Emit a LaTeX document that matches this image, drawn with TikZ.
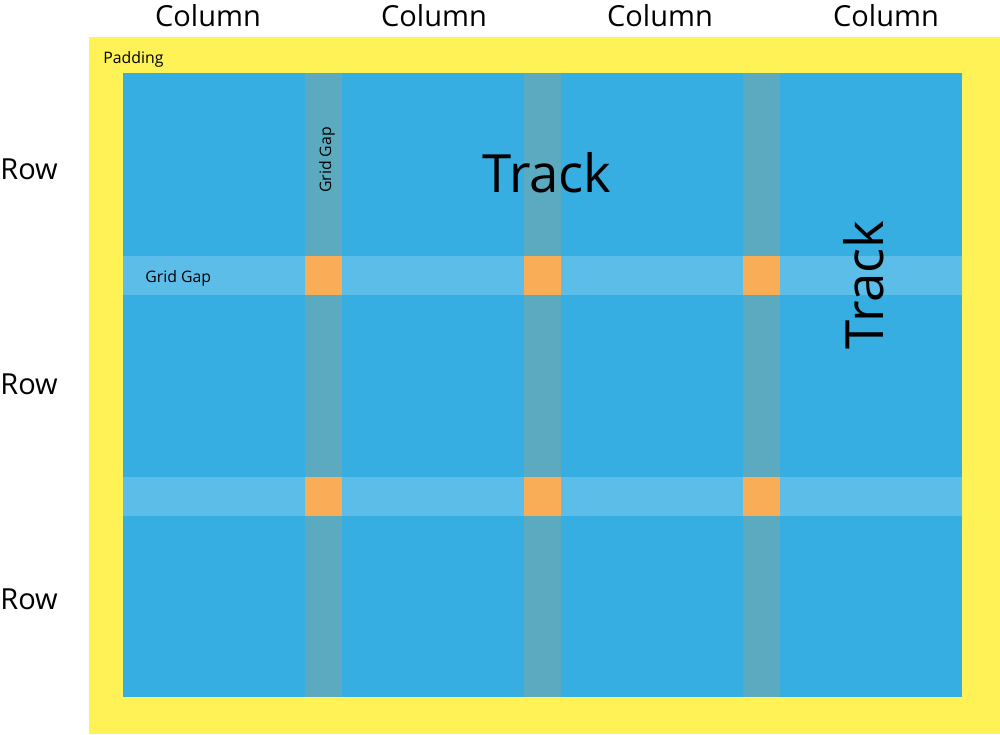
\documentclass[tikz,border=0pt]{standalone}
\usepackage{fontspec}
\setmainfont{Open Sans}
\definecolor{padyellow}{HTML}{FEF257}
\definecolor{trackblue}{HTML}{36AEE2}
\definecolor{colgap}{HTML}{5BAABF}
\definecolor{rowgap}{HTML}{5CBEE8}
\definecolor{crossgap}{HTML}{F9AD57}
\tikzset{head label/.style={inner sep=0pt,anchor=base,font=\fontsize{16.5}{18}\selectfont},
	track label/.style={inner sep=0pt,anchor=base,font=\fontsize{30}{34}\selectfont},
	small label/.style={inner sep=0pt,anchor=base west,font=\fontsize{9}{11}\selectfont},}

\begin{document}
\begin{tikzpicture}[x=0.02cm,y=-0.02cm]
			\useasboundingbox (0,0) rectangle (1000,734);

			\fill[padyellow] (89,37) rectangle (1000,734);
			\fill[trackblue] (123,73) rectangle (962,697);

			\fill[rowgap] (123,256) rectangle (962,295);
			\fill[rowgap] (123,477) rectangle (962,516);

			\fill[colgap] (305,73) rectangle (342,256);
			\fill[colgap] (305,295) rectangle (342,477);
			\fill[colgap] (305,516) rectangle (342,697);
			\fill[colgap] (524,73) rectangle (561,256);
			\fill[colgap] (524,295) rectangle (561,477);
			\fill[colgap] (524,516) rectangle (561,697);
			\fill[colgap] (743,73) rectangle (780,256);
			\fill[colgap] (743,295) rectangle (780,477);
			\fill[colgap] (743,516) rectangle (780,697);

			\fill[crossgap] (305,256) rectangle (342,295);
			\fill[crossgap] (524,256) rectangle (561,295);
			\fill[crossgap] (743,256) rectangle (780,295);
			\fill[crossgap] (305,477) rectangle (342,516);
			\fill[crossgap] (524,477) rectangle (561,516);
			\fill[crossgap] (743,477) rectangle (780,516);

			\node[head label] (col1) at (208,26) {Column};
			\node[head label] (col2) at (434,26) {Column};
			\node[head label] (col3) at (660,26) {Column};
			\node[head label] (col4) at (886,26) {Column};

			\node[head label,anchor=base west] (row1) at (0,179) {Row};
			\node[head label,anchor=base west] (row2) at (0,394) {Row};
			\node[head label,anchor=base west] (row3) at (0,609) {Row};

			\node[track label] (htrack) at (547,192) {Track};
			\node[track label,rotate=90] (vtrack) at (883,285) {Track};

			\node[small label] (pad) at (103,63) {Padding};
			\node[small label] (hgap) at (145,282) {Grid Gap};
			\node[small label,anchor=base,rotate=90] (vgap) at (331,160) {Grid Gap};
		\end{tikzpicture}
\end{document}
